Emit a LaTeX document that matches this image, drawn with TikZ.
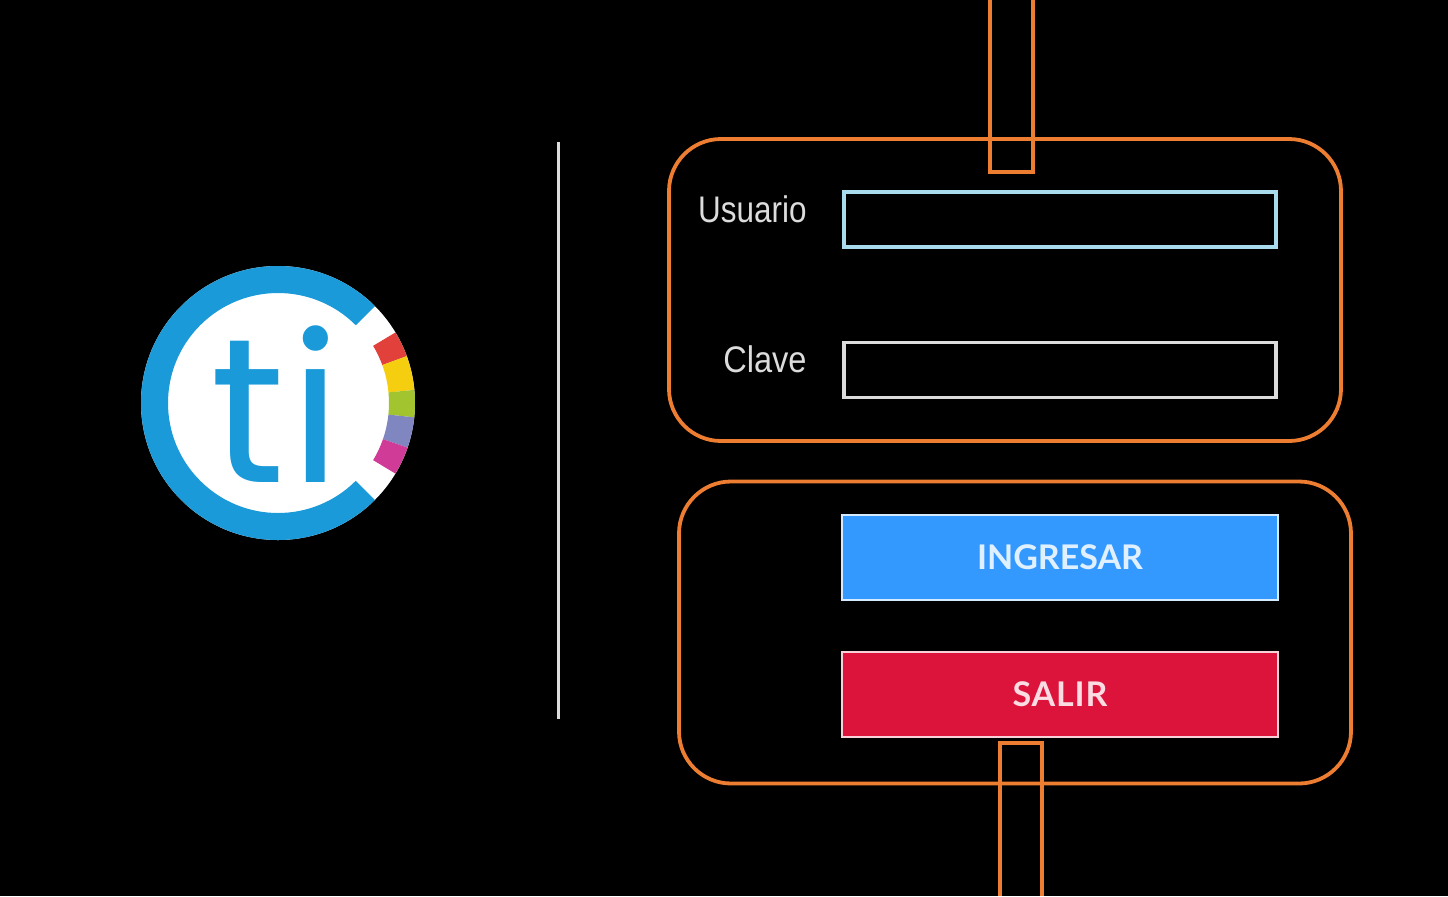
\documentclass[tikz,border=0pt]{standalone}
\usepackage{fontspec}
\usetikzlibrary{calc}
\setmainfont{Liberation Sans}
\newfontfamily\btnfont{Lato}
\newfontfamily\salirfont[LetterSpace=2.5]{Lato}
\newfontfamily\logofont[LetterSpace=2.6]{Poppins}
\definecolor{orangeL}{HTML}{ED7D31}
\definecolor{logoBlue}{HTML}{1A9AD9}
\definecolor{btnBlue}{HTML}{3399FF}
\definecolor{btnRed}{HTML}{DC143C}
\definecolor{lblGray}{HTML}{DCDCDC}
\definecolor{focusBlue}{HTML}{A8DCEC}
\begin{document}
\begin{tikzpicture}[x=0.5pt,y=-0.5pt,
  callout/.style={draw=orangeL,line width=1.9pt,rounded corners=26pt,rectangle,inner sep=0pt,minimum width=336pt,minimum height=151pt},
  tab/.style={draw=orangeL,line width=1.9pt},
  inputbox/.style={draw=#1,line width=1.7pt,fill=black,rectangle,inner sep=0pt,minimum width=216pt,minimum height=27.5pt},
  button/.style={draw=white!80!#1,line width=1.4pt,fill=#1,rectangle,inner sep=0pt,minimum width=218pt,minimum height=42.5pt,text=white!85!#1,font=\bfseries\fontsize{17}{18}\selectfont},
  fieldlabel/.style={text=lblGray,inner sep=0pt,anchor=base east,font=\fontsize{18.5}{20}\selectfont}]
\useasboundingbox (0,0) rectangle (1448,896);
\fill[black] (0,0) rectangle (1448,896);
% logo
\fill[white] (278,403) circle[radius=137];
\fill[logoBlue] ($(278,403)+(45:137)$) arc[start angle=45,end angle=315,radius=137]
  -- ($(278,403)+(315:110)$) arc[start angle=315,end angle=45,radius=110] -- cycle;
\foreach \a/\b/\c in {-31/-20/E2403A,-20/-5.5/F6CE10,-5.5/6/A2C52F,6/19/7F86C0,19/31/CF3B96}{
  \definecolor{segc}{HTML}{\c}
  \fill[segc] ($(278,403)+(\a:111)$) arc[start angle=\a,end angle=\b,radius=111]
    -- ($(278,403)+(\b:137)$) arc[start angle=\b,end angle=\a,radius=137] -- cycle;
}
\node[text=logoBlue,inner sep=0pt,anchor=base,font=\logofont\fontsize{103}{110}\selectfont] (logo) at (276,482) {ti};
% divider
\coordinate (divtop) at (558,142);
\coordinate (divbot) at (558,719);
\draw[lblGray,line width=1.5pt] (divtop) -- (divbot);
% callouts
\node[callout] (groupA) at (1005,290) {};
\node[callout] (groupB) at (1015,632.5) {};
\coordinate (t1a) at (990,0); \coordinate (t1b) at (990,172); \coordinate (t1c) at (1033,172); \coordinate (t1d) at (1033,0);
\draw[tab] (t1a) -- (t1b) -- (t1c) -- (t1d);
\coordinate (t2a) at (1000,896); \coordinate (t2b) at (1000,743); \coordinate (t2c) at (1042,743); \coordinate (t2d) at (1042,896);
\draw[tab] (t2a) -- (t2b) -- (t2c) -- (t2d);
% fields
\node[fieldlabel] (usuario) at (807,222) {\scalebox{0.85}[1]{Usuario}};
\node[fieldlabel] (clave) at (807,372) {\scalebox{0.88}[1]{Clave}};
\node[inputbox=focusBlue] (inUser) at (1060,219.5) {};
\node[inputbox=lblGray] (inPass) at (1060,370) {};
% buttons
\node[button=btnBlue] (ingresar) at (1060,557.5) {\btnfont\bfseries INGRESAR};
\node[button=btnRed] (salir) at (1060,694.5) {\salirfont\bfseries SALIR};
\end{tikzpicture}
\end{document}
